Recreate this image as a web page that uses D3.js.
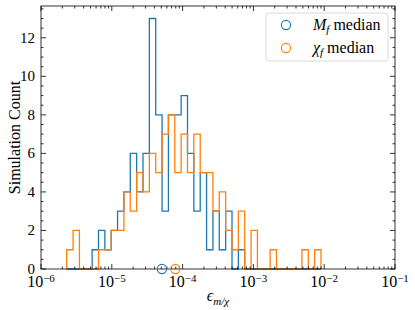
<!DOCTYPE html>
<html lang="en">
<head>
<meta charset="UTF-8" />
<title>Simulation Count histogram</title>
<script src="https://d3js.org/d3.v7.min.js"></script>
<style>
  body { margin: 0; background: #fff; }
  svg { display: block; font-family: "Liberation Serif", "DejaVu Serif", serif; }
</style>
</head>
<body>
<div id="chart"></div>
<script>
// shared log10 bin range, 40 log-spaced bins
const binLogMin = -5.637;
const binLogMax = -2.045;
const binCount = 40;

// counts per bin
const mfCounts = [0,0,0,0,1,2,1,2,3,4,6,4,6,13,8,3,8,8,9,6,3,5,1,3,1,3,0,1,0,0,0,0,0,0,0,0,0,0,0,0];
const chiCounts = [1,2,0,0,0,1,1,2,2,4,3,5,4,6,5,7,8,5,7,5,7,5,5,3,4,2,1,3,0,2,0,0,1,0,0,0,0,1,0,1];

const mfMedian = 5.1e-5;
const chiMedian = 7.9e-5;

const xTicks = [1e-6, 1e-5, 1e-4, 1e-3, 1e-2, 1e-1];
const xTickExps = ["−6", "−5", "−4", "−3", "−2", "−1"];
const yTicks = [0, 2, 4, 6, 8, 10, 12];

const blue = "#1f77b4", orange = "#ff7f0e";

const width = 415, height = 310;
const margin = { top: 6, right: 20, bottom: 41, left: 41 };

const svg = d3.select("#chart").append("svg")
    .attr("width", width)
    .attr("height", height);

const x = d3.scaleLog().domain([1e-6, 1e-1]).range([margin.left, width - margin.right]);
const y = d3.scaleLinear().domain([0, 13.65]).range([height - margin.bottom, margin.top]);

const x0 = x.range()[0], x1 = x.range()[1];
const y0 = y.range()[0], y1 = y.range()[1];

// bin edges
const edges = d3.range(binCount + 1).map(i => Math.pow(10, binLogMin + i * (binLogMax - binLogMin) / binCount));

function stepPoints(counts) {
    const pts = [[edges[0], 0]];
    counts.forEach((c, i) => {
        pts.push([edges[i], c]);
        pts.push([edges[i + 1], c]);
    });
    pts.push([edges[counts.length], 0]);
    return pts;
}

const line = d3.line().x(d => x(d[0])).y(d => y(d[1]));

svg.append("path")
    .attr("d", line(stepPoints(mfCounts)))
    .attr("fill", "none")
    .attr("stroke", blue)
    .attr("stroke-width", 1.3);

svg.append("path")
    .attr("d", line(stepPoints(chiCounts)))
    .attr("fill", "none")
    .attr("stroke", orange)
    .attr("stroke-width", 1.3);

// minor ticks
const xMinor = [];
for (let e = -6; e < -1; e++) {
    for (let m = 2; m <= 9; m++) xMinor.push(m * Math.pow(10, e));
}
const yMinor = d3.range(0, 13.6, 0.5).filter(v => v % 2 !== 0);

const axes = svg.append("g").attr("stroke", "#000").attr("stroke-width", 0.8);

function vTicks(vals, len) {
    vals.forEach(v => {
        axes.append("line").attr("x1", x(v)).attr("x2", x(v)).attr("y1", y0).attr("y2", y0 - len);
        axes.append("line").attr("x1", x(v)).attr("x2", x(v)).attr("y1", y1).attr("y2", y1 + len);
    });
}
function hTicks(vals, len) {
    vals.forEach(v => {
        axes.append("line").attr("y1", y(v)).attr("y2", y(v)).attr("x1", x0).attr("x2", x0 + len);
        axes.append("line").attr("y1", y(v)).attr("y2", y(v)).attr("x1", x1).attr("x2", x1 - len);
    });
}
vTicks(xTicks, 5);
vTicks(xMinor, 2.5);
hTicks(yTicks, 5);
hTicks(yMinor, 2.5);

axes.append("rect")
    .attr("x", x0).attr("y", y1)
    .attr("width", x1 - x0).attr("height", y0 - y1)
    .attr("fill", "none");

// tick labels
const xl = svg.append("g").attr("font-size", 16).attr("text-anchor", "middle");
xTicks.forEach((v, i) => {
    const t = xl.append("text").attr("x", x(v)).attr("y", y0 + 18);
    t.append("tspan").text("10");
    t.append("tspan").attr("font-size", 11).attr("dy", -5).text(xTickExps[i]);
});

svg.append("g").attr("font-size", 15).attr("text-anchor", "end")
    .selectAll("text").data(yTicks).join("text")
    .attr("x", x0 - 6)
    .attr("y", d => y(d) + 5)
    .text(d => d);

// axis labels
svg.append("text")
    .attr("transform", `translate(14, ${(y0 + y1) / 2}) rotate(-90)`)
    .attr("text-anchor", "middle")
    .attr("dy", "0.35em")
    .attr("font-size", 16)
    .text("Simulation Count");

const xlab = svg.append("text")
    .attr("x", (x0 + x1) / 2)
    .attr("y", 301)
    .attr("text-anchor", "middle")
    .attr("font-size", 16);
xlab.append("tspan").attr("font-style", "italic").text("ϵ");
xlab.append("tspan").attr("font-size", 11).attr("font-style", "italic").attr("dy", 4).text("m/χ");

// median markers
svg.append("circle").attr("cx", x(mfMedian)).attr("cy", y(0)).attr("r", 4.6)
    .attr("fill", "none").attr("stroke", blue).attr("stroke-width", 1.1);
svg.append("circle").attr("cx", x(chiMedian)).attr("cy", y(0)).attr("r", 4.6)
    .attr("fill", "none").attr("stroke", orange).attr("stroke-width", 1.1);

// legend
const legend = svg.append("g");
legend.append("rect")
    .attr("x", 266).attr("y", 13).attr("width", 122).attr("height", 48).attr("rx", 3)
    .attr("fill", "#fff").attr("fill-opacity", 0.8)
    .attr("stroke", "#d0d0d0").attr("stroke-width", 0.8);

const items = [
    { color: blue, sym: "M", sub: "f" },
    { color: orange, sym: "χ", sub: "f" }
];
items.forEach((d, i) => {
    const cy = 25 + i * 23;
    legend.append("circle").attr("cx", 286).attr("cy", cy).attr("r", 4.6)
        .attr("fill", "none").attr("stroke", d.color).attr("stroke-width", 1.1);
    const t = legend.append("text").attr("x", 313).attr("y", cy + 5).attr("font-size", 16);
    t.append("tspan").attr("font-style", "italic").text(d.sym);
    t.append("tspan").attr("font-style", "italic").attr("font-size", 11).attr("dy", 3).text(d.sub);
    t.append("tspan").attr("dy", -3).text(" median");
});
</script>
</body>
</html>
